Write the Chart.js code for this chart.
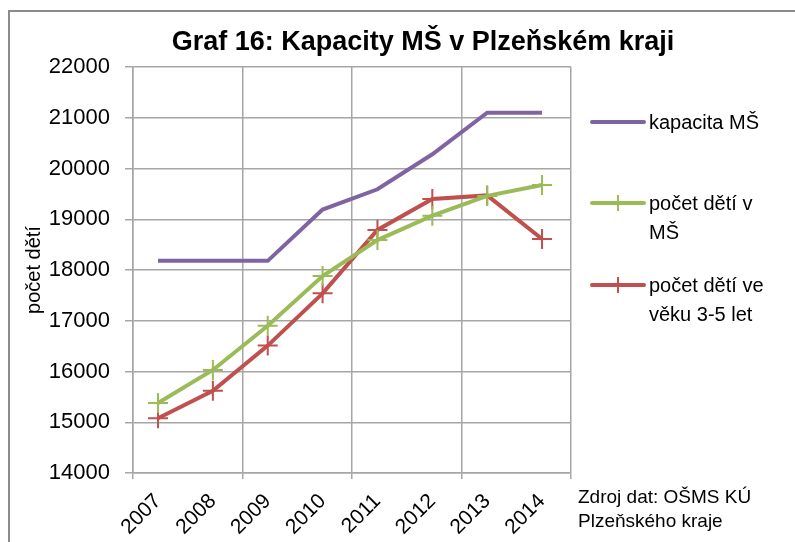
<!DOCTYPE html>
<html><head><meta charset="utf-8">
<script src="https://cdn.jsdelivr.net/npm/chart.js@4.4.1/dist/chart.umd.min.js"></script>
<style>html,body{margin:0;padding:0;background:#fff}#wrap{width:795px;height:542px;position:relative}</style>
</head><body><div id="wrap"><canvas id="c" width="795" height="542"></canvas></div>
<script>
const years = ['2007','2008','2009','2010','2011','2012','2013','2014'];
const kapacita = [18180,18180,18180,19190,19590,20280,21100,21100];
const detiVMS = [15380,16030,16900,17880,18590,19070,19460,19675];
const deti35 = [15080,15620,16510,17540,18790,19400,19470,18610];
const yTicks = [14000,15000,16000,17000,18000,19000,20000,21000,22000];
const seriesNames = [['kapacita MŠ'],['počet dětí v','MŠ'],['počet dětí ve','věku 3-5 let']];
const colors = ['#8064A2','#9BBB59','#C0504D'];
const titleText = 'Graf 16: Kapacity MŠ v Plzeňském kraji';
const sourceText = ['Zdroj dat: OŠMS KÚ','Plzeňského kraje'];

const FONT = '"Liberation Sans", Arial, sans-serif';
const xMin = -0.456, xMax = 7.528;
const gridPos = [0,1,2,3,4].map(k => xMin + k*(xMax - xMin)/4);
const toPts = arr => arr.map((v,i) => ({x:i, y:v}));

const decor = {
  id:'decor',
  afterDraw(chart){
    const ctx = chart.ctx;
    ctx.save();
    ctx.strokeStyle = '#8C8C8C'; ctx.lineWidth = 2;
    ctx.beginPath(); ctx.moveTo(9,600); ctx.lineTo(9,11); ctx.lineTo(800,11); ctx.stroke();
    ctx.fillStyle = '#000';
    ctx.font = 'bold 27px ' + FONT;
    ctx.textAlign = 'center'; ctx.textBaseline = 'alphabetic';
    ctx.fillText(titleText, 423, 50, 522);
    const ys = [122, 203, 285];
    chart.data.datasets.forEach((ds, i) => {
      const y = ys[i];
      ctx.strokeStyle = ds.borderColor; ctx.lineWidth = 4; ctx.lineCap = 'round';
      ctx.beginPath(); ctx.moveTo(592, y); ctx.lineTo(644, y); ctx.stroke();
      if (ds.pointStyle === 'cross') {
        ctx.lineWidth = 2; ctx.lineCap = 'butt';
        ctx.beginPath(); ctx.moveTo(618, y-8); ctx.lineTo(618, y+8); ctx.stroke();
      }
      ctx.fillStyle = '#000';
      ctx.font = '20px ' + FONT;
      ctx.textAlign = 'left';
      seriesNames[i].forEach((t, j) => ctx.fillText(t, 649, y + 7 + j*29));
    });
    ctx.font = '19px ' + FONT;
    ctx.fillText(sourceText[0], 578, 503);
    ctx.fillText(sourceText[1], 578, 527);
    ctx.restore();
  }
};

new Chart(document.getElementById('c'), {
  type:'line',
  data:{
    datasets:[
      {label:seriesNames[0].join(' '), data:toPts(kapacita), borderColor:colors[0], backgroundColor:colors[0], borderWidth:4, pointRadius:0, pointStyle:false, tension:0},
      {label:seriesNames[1].join(' '), data:toPts(detiVMS), borderColor:colors[1], backgroundColor:colors[1], borderWidth:4, pointStyle:'cross', pointRadius:10, pointBorderWidth:2, tension:0},
      {label:seriesNames[2].join(' '), data:toPts(deti35), borderColor:colors[2], backgroundColor:colors[2], borderWidth:4, pointStyle:'cross', pointRadius:10, pointBorderWidth:2, tension:0}
    ]
  },
  options:{
    responsive:false, animation:false, devicePixelRatio:1,
    layout:{padding:{left:0, right:224, top:67, bottom:0}},
    plugins:{legend:{display:false}, title:{display:false}, tooltip:{enabled:false}},
    scales:{
      x:{
        type:'linear', min:xMin, max:xMax,
        afterBuildTicks(s){
          const t = gridPos.map(v => ({value:v, grid:true})).concat(years.map((y,i) => ({value:i, label:y})));
          t.sort((a,b) => a.value - b.value);
          s.ticks = t;
        },
        afterFit(s){ s.height = 69; },
        grid:{
          color: c => (c.tick && c.tick.grid) ? '#A6A6A6' : 'rgba(0,0,0,0)',
          lineWidth:1.5, tickLength:6, drawTicks:true
        },
        border:{color:'#A6A6A6', width:1.5},
        ticks:{
          autoSkip:false, minRotation:45, maxRotation:45, padding:10,
          color:'#000', font:{family:FONT, size:21},
          callback(v, i, t){ return t[i].label || ''; }
        }
      },
      y:{
        min:14000, max:22000,
        afterBuildTicks(s){ s.ticks = yTicks.map(v => ({value:v})); },
        afterFit(s){ s.width = 133; },
        grid:{color:'#A6A6A6', lineWidth:1.5, tickLength:8},
        border:{color:'#A6A6A6', width:1.5},
        ticks:{color:'#000', font:{family:FONT, size:22}, padding:15, callback:v => String(v)},
        title:{display:true, text:'počet dětí', color:'#000', font:{family:FONT, size:20}, padding:{top:22, bottom:0}}
      }
    }
  },
  plugins:[decor]
});
</script></body></html>
